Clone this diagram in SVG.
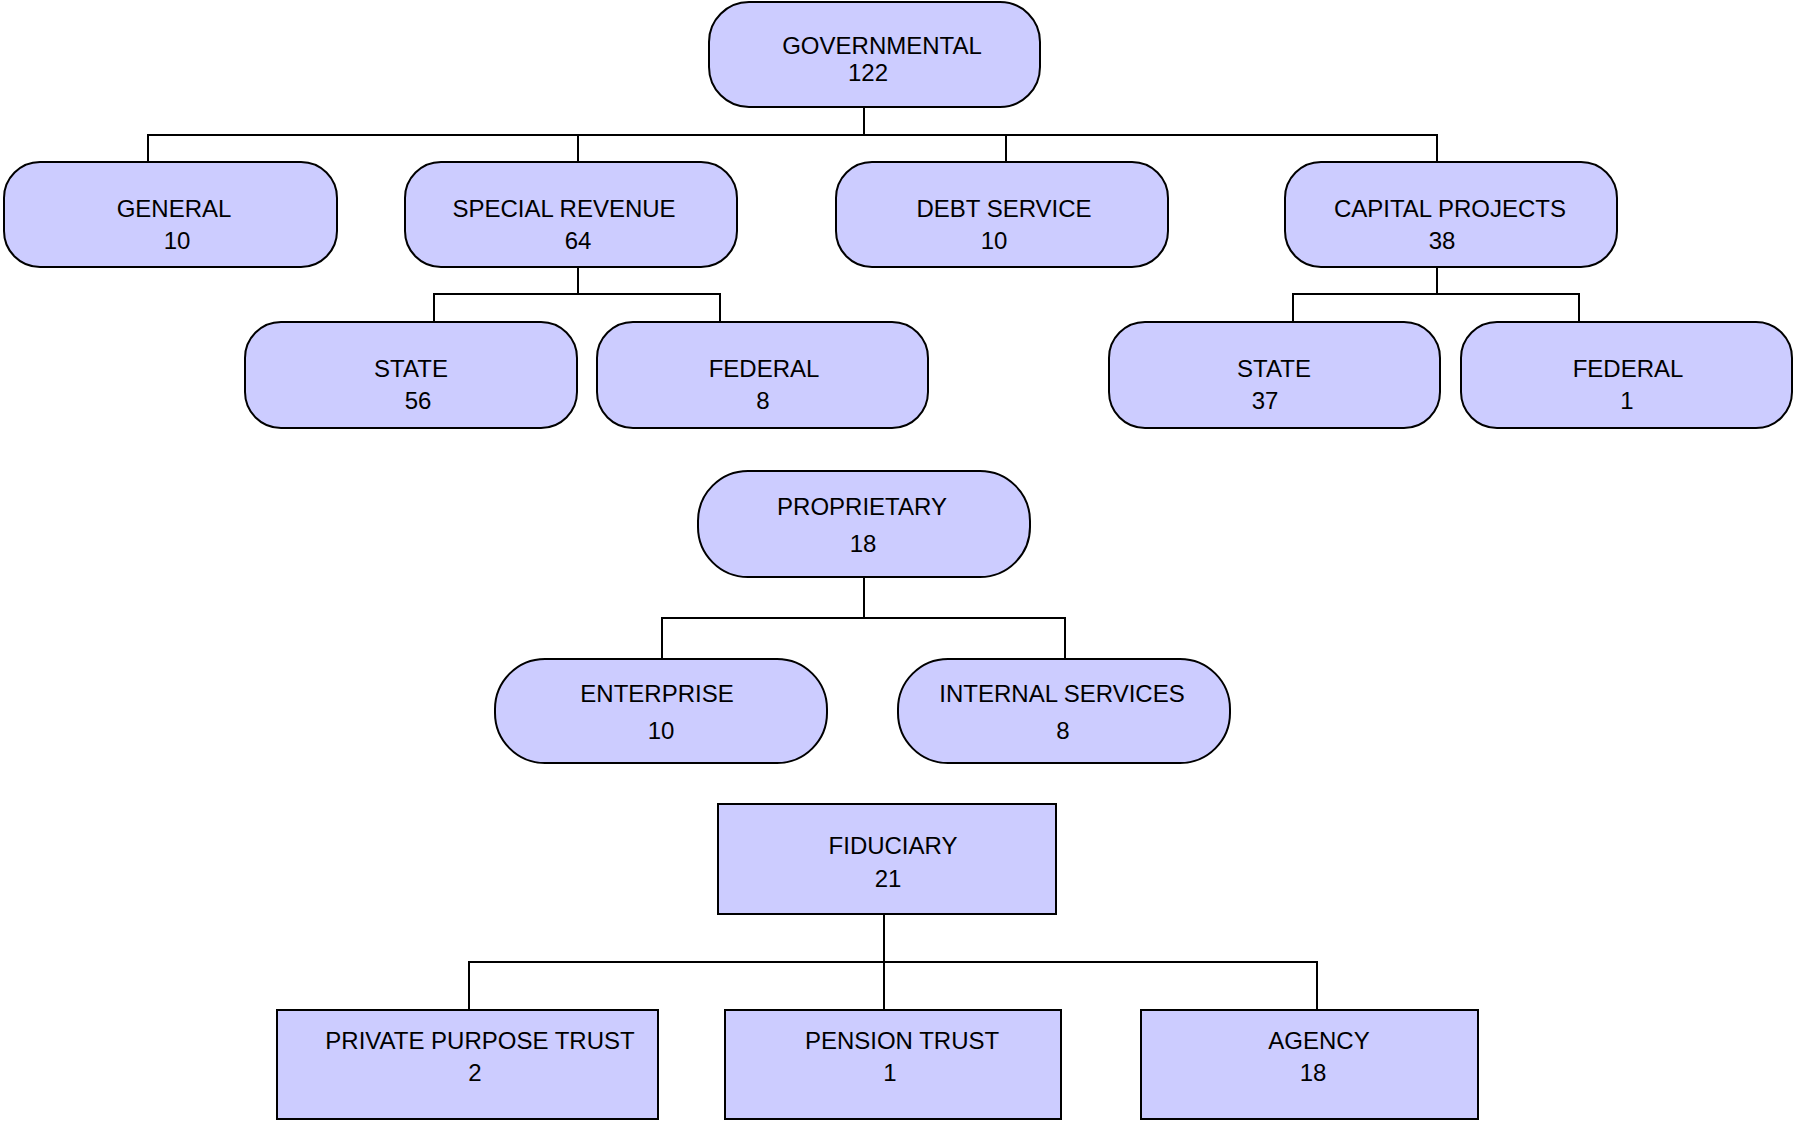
<svg xmlns="http://www.w3.org/2000/svg" width="1794" height="1121" viewBox="0 0 1794 1121">
<style>
.box{fill:#ccccff;stroke:#000;stroke-width:2}
.t{font-family:"Liberation Sans",Arial,sans-serif;font-size:24px;fill:#000;text-anchor:middle}
.c{fill:none;stroke:#000;stroke-width:2}
</style>
<rect width="1794" height="1121" fill="#fff"/>
<g id="connectors">
<path class="c" d="M864 107V135M148 161V135H1437V161M578 135V161M1006 135V161"/>
<path class="c" d="M578 268V294M434 322V294H720V322"/>
<path class="c" d="M1437 268V294M1293 322V294H1579V322"/>
<path class="c" d="M864 577V618M662 659V618H1065V659"/>
<path class="c" d="M884 914V1010M469 1010V962H1317V1010"/>
</g>
<g id="governmental"><rect class="box" x="709" y="2" width="331" height="105" rx="40"/><text class="t" x="882" y="54">GOVERNMENTAL</text><text class="t" x="868" y="81">122</text></g>
<g id="general"><rect class="box" x="4" y="162" width="333" height="105" rx="36"/><text class="t" x="174" y="217">GENERAL</text><text class="t" x="177" y="249">10</text></g>
<g id="special-revenue"><rect class="box" x="405" y="162" width="332" height="105" rx="36"/><text class="t" x="564" y="217">SPECIAL REVENUE</text><text class="t" x="578" y="249">64</text></g>
<g id="debt-service"><rect class="box" x="836" y="162" width="332" height="105" rx="36"/><text class="t" x="1004" y="217">DEBT SERVICE</text><text class="t" x="994" y="249">10</text></g>
<g id="capital-projects"><rect class="box" x="1285" y="162" width="332" height="105" rx="36"/><text class="t" x="1450" y="217">CAPITAL PROJECTS</text><text class="t" x="1442" y="249">38</text></g>
<g id="sr-state"><rect class="box" x="245" y="322" width="332" height="106" rx="36"/><text class="t" x="411" y="377">STATE</text><text class="t" x="418" y="409">56</text></g>
<g id="sr-federal"><rect class="box" x="597" y="322" width="331" height="106" rx="36"/><text class="t" x="764" y="377">FEDERAL</text><text class="t" x="763" y="409">8</text></g>
<g id="cp-state"><rect class="box" x="1109" y="322" width="331" height="106" rx="36"/><text class="t" x="1274" y="377">STATE</text><text class="t" x="1265" y="409">37</text></g>
<g id="cp-federal"><rect class="box" x="1461" y="322" width="331" height="106" rx="36"/><text class="t" x="1628" y="377">FEDERAL</text><text class="t" x="1627" y="409">1</text></g>
<g id="proprietary"><rect class="box" x="698" y="471" width="332" height="106" rx="50"/><text class="t" x="862" y="515">PROPRIETARY</text><text class="t" x="863" y="552">18</text></g>
<g id="enterprise"><rect class="box" x="495" y="659" width="332" height="104" rx="50"/><text class="t" x="657" y="702">ENTERPRISE</text><text class="t" x="661" y="739">10</text></g>
<g id="internal-services"><rect class="box" x="898" y="659" width="332" height="104" rx="50"/><text class="t" x="1062" y="702">INTERNAL SERVICES</text><text class="t" x="1063" y="739">8</text></g>
<g id="fiduciary"><rect class="box" x="718" y="804" width="338" height="110"/><text class="t" x="893" y="854">FIDUCIARY</text><text class="t" x="888" y="887">21</text></g>
<g id="private-purpose-trust"><rect class="box" x="277" y="1010" width="381" height="109"/><text class="t" x="480" y="1049">PRIVATE PURPOSE TRUST</text><text class="t" x="475" y="1081">2</text></g>
<g id="pension-trust"><rect class="box" x="725" y="1010" width="336" height="109"/><text class="t" x="902" y="1049">PENSION TRUST</text><text class="t" x="890" y="1081">1</text></g>
<g id="agency"><rect class="box" x="1141" y="1010" width="337" height="109"/><text class="t" x="1319" y="1049">AGENCY</text><text class="t" x="1313" y="1081">18</text></g>
</svg>
